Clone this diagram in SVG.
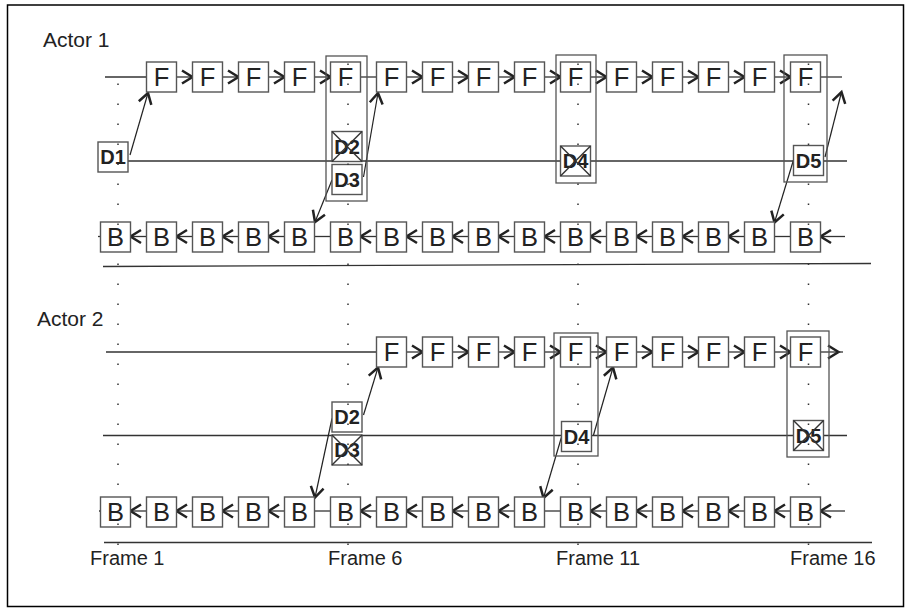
<svg xmlns="http://www.w3.org/2000/svg" width="909" height="608" viewBox="0 0 909 608">
<defs>
<marker id="ah" markerUnits="userSpaceOnUse" orient="auto" markerWidth="24" markerHeight="24" refX="0" refY="0" viewBox="-12 -12 24 24" overflow="visible">
<path d="M-10.5,-6.5 L0,0 L-10.5,6.5" fill="none" stroke="#222" stroke-width="2.5" stroke-linejoin="miter"/>
</marker>
<style>
.ln{stroke:#333;stroke-width:1.3;fill:none}
.ar{stroke:#333;stroke-width:1.3;fill:none;marker-end:url(#ah)}
.dg{stroke:#222;stroke-width:1.2;fill:none;marker-end:url(#ah)}
.bx{fill:#fff;stroke:#555;stroke-width:1.4}
.hl{fill:none;stroke:#555;stroke-width:1.3}
.xx{stroke:#333;stroke-width:1.5}
.dot{stroke:#333;stroke-width:1.5;stroke-dasharray:1.6 18.4;fill:none}
.fb{font-family:"Liberation Sans",Arial,sans-serif;font-size:25.5px;fill:#222;text-anchor:middle}
.d{font-family:"Liberation Sans",Arial,sans-serif;font-size:20px;font-weight:bold;fill:#222;text-anchor:middle}
.lbl{font-family:"Liberation Sans",Arial,sans-serif;font-size:20px;fill:#222}
.act{font-family:"Liberation Sans",Arial,sans-serif;font-size:21px;fill:#222}
</style>
</defs>
<rect x="7.5" y="5" width="896" height="601.5" fill="#fff" stroke="#000" stroke-width="1.5"/>
<text class="act" x="43" y="47">Actor 1</text>
<text class="act" x="37" y="326">Actor 2</text>
<line class="ln" x1="103" y1="266.5" x2="871" y2="263.5"/>
<line class="ln" x1="104" y1="542.5" x2="872" y2="542.5"/>
<text class="lbl" x="90" y="565">Frame 1</text>
<text class="lbl" x="328" y="565">Frame 6</text>
<text class="lbl" x="556" y="565">Frame 11</text>
<text class="lbl" x="790" y="565">Frame 16</text>
<g id="connectors">
<line class="ln" x1="105" y1="77" x2="146.5" y2="77"/>
<line class="ar" x1="176.5" y1="77" x2="192.5" y2="77"/>
<line class="ar" x1="222.5" y1="77" x2="238.5" y2="77"/>
<line class="ar" x1="268.5" y1="77" x2="284.5" y2="77"/>
<line class="ar" x1="314.5" y1="77" x2="330.5" y2="77"/>
<line class="ln" x1="360.5" y1="77" x2="376.5" y2="77"/>
<line class="ar" x1="406.5" y1="77" x2="422.5" y2="77"/>
<line class="ar" x1="452.5" y1="77" x2="468.5" y2="77"/>
<line class="ar" x1="498.5" y1="77" x2="514.5" y2="77"/>
<line class="ar" x1="544.5" y1="77" x2="560.5" y2="77"/>
<line class="ar" x1="590.5" y1="77" x2="606.5" y2="77"/>
<line class="ar" x1="636.5" y1="77" x2="652.5" y2="77"/>
<line class="ar" x1="682.5" y1="77" x2="698.5" y2="77"/>
<line class="ar" x1="728.5" y1="77" x2="744.5" y2="77"/>
<line class="ar" x1="774.5" y1="77" x2="790.5" y2="77"/>
<line class="ln" x1="820.5" y1="77" x2="842" y2="77"/>
<line class="ln" x1="128" y1="161" x2="847" y2="161"/>
<line class="ln" x1="98" y1="236.5" x2="100.5" y2="236.5"/>
<line class="ar" x1="146.5" y1="236.5" x2="130.5" y2="236.5"/>
<line class="ar" x1="192.5" y1="236.5" x2="176.5" y2="236.5"/>
<line class="ar" x1="238.5" y1="236.5" x2="222.5" y2="236.5"/>
<line class="ar" x1="284.5" y1="236.5" x2="268.5" y2="236.5"/>
<line class="ln" x1="330.5" y1="236.5" x2="314.5" y2="236.5"/>
<line class="ar" x1="376.5" y1="236.5" x2="360.5" y2="236.5"/>
<line class="ar" x1="422.5" y1="236.5" x2="406.5" y2="236.5"/>
<line class="ar" x1="468.5" y1="236.5" x2="452.5" y2="236.5"/>
<line class="ar" x1="514.5" y1="236.5" x2="498.5" y2="236.5"/>
<line class="ar" x1="560.5" y1="236.5" x2="544.5" y2="236.5"/>
<line class="ar" x1="606.5" y1="236.5" x2="590.5" y2="236.5"/>
<line class="ar" x1="652.5" y1="236.5" x2="636.5" y2="236.5"/>
<line class="ar" x1="698.5" y1="236.5" x2="682.5" y2="236.5"/>
<line class="ar" x1="744.5" y1="236.5" x2="728.5" y2="236.5"/>
<line class="ln" x1="790.5" y1="236.5" x2="774.5" y2="236.5"/>
<line class="ar" x1="845" y1="236.5" x2="820.5" y2="236.5"/>
<line class="dg" x1="130" y1="155" x2="148" y2="93"/>
<line class="dg" x1="363.5" y1="177" x2="378" y2="93"/>
<line class="dg" x1="332" y1="180" x2="315" y2="222"/>
<line class="dg" x1="825" y1="157" x2="841.5" y2="92"/>
<line class="dg" x1="793.5" y1="160" x2="774.5" y2="222.5"/>
<line class="ln" x1="106" y1="352" x2="376.5" y2="352"/>
<line class="ar" x1="406.5" y1="352" x2="422.5" y2="352"/>
<line class="ar" x1="452.5" y1="352" x2="468.5" y2="352"/>
<line class="ar" x1="498.5" y1="352" x2="514.5" y2="352"/>
<line class="ar" x1="544.5" y1="352" x2="560.5" y2="352"/>
<line class="ar" x1="590.5" y1="352" x2="606.5" y2="352"/>
<line class="ar" x1="636.5" y1="352" x2="652.5" y2="352"/>
<line class="ar" x1="682.5" y1="352" x2="698.5" y2="352"/>
<line class="ar" x1="728.5" y1="352" x2="744.5" y2="352"/>
<line class="ar" x1="774.5" y1="352" x2="790.5" y2="352"/>
<line class="ar" x1="820.5" y1="352" x2="838.5" y2="352"/>
<line class="ln" x1="838" y1="352" x2="843" y2="352"/>
<line class="ln" x1="103" y1="435.5" x2="847" y2="435.5"/>
<line class="ln" x1="99" y1="511" x2="100.5" y2="511"/>
<line class="ar" x1="146.5" y1="511" x2="130.5" y2="511"/>
<line class="ar" x1="192.5" y1="511" x2="176.5" y2="511"/>
<line class="ar" x1="238.5" y1="511" x2="222.5" y2="511"/>
<line class="ar" x1="284.5" y1="511" x2="268.5" y2="511"/>
<line class="ln" x1="330.5" y1="511" x2="314.5" y2="511"/>
<line class="ar" x1="376.5" y1="511" x2="360.5" y2="511"/>
<line class="ar" x1="422.5" y1="511" x2="406.5" y2="511"/>
<line class="ar" x1="468.5" y1="511" x2="452.5" y2="511"/>
<line class="ar" x1="514.5" y1="511" x2="498.5" y2="511"/>
<line class="ln" x1="560.5" y1="511" x2="544.5" y2="511"/>
<line class="ar" x1="606.5" y1="511" x2="590.5" y2="511"/>
<line class="ar" x1="652.5" y1="511" x2="636.5" y2="511"/>
<line class="ar" x1="698.5" y1="511" x2="682.5" y2="511"/>
<line class="ar" x1="744.5" y1="511" x2="728.5" y2="511"/>
<line class="ar" x1="790.5" y1="511" x2="774.5" y2="511"/>
<line class="ar" x1="845" y1="511" x2="820.5" y2="511"/>
<line class="dg" x1="363.5" y1="415" x2="378" y2="367.5"/>
<line class="dg" x1="332" y1="418.5" x2="315" y2="497.5"/>
<line class="dg" x1="593.5" y1="435" x2="613" y2="367.5"/>
<line class="dg" x1="561.5" y1="437" x2="543.5" y2="498"/>
</g>
<g id="highlights">
<rect class="hl" x="326" y="56" width="41" height="145"/>
<rect class="hl" x="556" y="55" width="40" height="128"/>
<rect class="hl" x="784" y="55" width="43" height="127"/>
<rect class="hl" x="554" y="333" width="44" height="123"/>
<rect class="hl" x="787" y="331" width="42" height="126"/>
</g>
<g id="a1-forward">
<g id="a1-f2"><rect class="bx" x="146.5" y="62" width="30" height="30"/><text class="fb" x="161.5" y="86.2">F</text></g>
<g id="a1-f3"><rect class="bx" x="192.5" y="62" width="30" height="30"/><text class="fb" x="207.5" y="86.2">F</text></g>
<g id="a1-f4"><rect class="bx" x="238.5" y="62" width="30" height="30"/><text class="fb" x="253.5" y="86.2">F</text></g>
<g id="a1-f5"><rect class="bx" x="284.5" y="62" width="30" height="30"/><text class="fb" x="299.5" y="86.2">F</text></g>
<g id="a1-f6"><rect class="bx" x="330.5" y="62" width="30" height="30"/><text class="fb" x="345.5" y="86.2">F</text></g>
<g id="a1-f7"><rect class="bx" x="376.5" y="62" width="30" height="30"/><text class="fb" x="391.5" y="86.2">F</text></g>
<g id="a1-f8"><rect class="bx" x="422.5" y="62" width="30" height="30"/><text class="fb" x="437.5" y="86.2">F</text></g>
<g id="a1-f9"><rect class="bx" x="468.5" y="62" width="30" height="30"/><text class="fb" x="483.5" y="86.2">F</text></g>
<g id="a1-f10"><rect class="bx" x="514.5" y="62" width="30" height="30"/><text class="fb" x="529.5" y="86.2">F</text></g>
<g id="a1-f11"><rect class="bx" x="560.5" y="62" width="30" height="30"/><text class="fb" x="575.5" y="86.2">F</text></g>
<g id="a1-f12"><rect class="bx" x="606.5" y="62" width="30" height="30"/><text class="fb" x="621.5" y="86.2">F</text></g>
<g id="a1-f13"><rect class="bx" x="652.5" y="62" width="30" height="30"/><text class="fb" x="667.5" y="86.2">F</text></g>
<g id="a1-f14"><rect class="bx" x="698.5" y="62" width="30" height="30"/><text class="fb" x="713.5" y="86.2">F</text></g>
<g id="a1-f15"><rect class="bx" x="744.5" y="62" width="30" height="30"/><text class="fb" x="759.5" y="86.2">F</text></g>
<g id="a1-f16"><rect class="bx" x="790.5" y="62" width="30" height="30"/><text class="fb" x="805.5" y="86.2">F</text></g>
</g>
<g id="a1-backward">
<g id="a1-b1"><rect class="bx" x="100.5" y="222" width="30" height="30"/><text class="fb" x="115.5" y="246.2">B</text></g>
<g id="a1-b2"><rect class="bx" x="146.5" y="222" width="30" height="30"/><text class="fb" x="161.5" y="246.2">B</text></g>
<g id="a1-b3"><rect class="bx" x="192.5" y="222" width="30" height="30"/><text class="fb" x="207.5" y="246.2">B</text></g>
<g id="a1-b4"><rect class="bx" x="238.5" y="222" width="30" height="30"/><text class="fb" x="253.5" y="246.2">B</text></g>
<g id="a1-b5"><rect class="bx" x="284.5" y="222" width="30" height="30"/><text class="fb" x="299.5" y="246.2">B</text></g>
<g id="a1-b6"><rect class="bx" x="330.5" y="222" width="30" height="30"/><text class="fb" x="345.5" y="246.2">B</text></g>
<g id="a1-b7"><rect class="bx" x="376.5" y="222" width="30" height="30"/><text class="fb" x="391.5" y="246.2">B</text></g>
<g id="a1-b8"><rect class="bx" x="422.5" y="222" width="30" height="30"/><text class="fb" x="437.5" y="246.2">B</text></g>
<g id="a1-b9"><rect class="bx" x="468.5" y="222" width="30" height="30"/><text class="fb" x="483.5" y="246.2">B</text></g>
<g id="a1-b10"><rect class="bx" x="514.5" y="222" width="30" height="30"/><text class="fb" x="529.5" y="246.2">B</text></g>
<g id="a1-b11"><rect class="bx" x="560.5" y="222" width="30" height="30"/><text class="fb" x="575.5" y="246.2">B</text></g>
<g id="a1-b12"><rect class="bx" x="606.5" y="222" width="30" height="30"/><text class="fb" x="621.5" y="246.2">B</text></g>
<g id="a1-b13"><rect class="bx" x="652.5" y="222" width="30" height="30"/><text class="fb" x="667.5" y="246.2">B</text></g>
<g id="a1-b14"><rect class="bx" x="698.5" y="222" width="30" height="30"/><text class="fb" x="713.5" y="246.2">B</text></g>
<g id="a1-b15"><rect class="bx" x="744.5" y="222" width="30" height="30"/><text class="fb" x="759.5" y="246.2">B</text></g>
<g id="a1-b16"><rect class="bx" x="790.5" y="222" width="30" height="30"/><text class="fb" x="805.5" y="246.2">B</text></g>
</g>
<g id="a1-data">
<g id="a1-d1"><rect class="bx" x="98" y="142" width="30" height="30"/><text class="d" x="113" y="164.2">D1</text></g>
<g id="a1-d2"><rect class="bx" x="332" y="131.5" width="30" height="30"/><text class="d" x="347" y="153.7">D2</text><line class="xx" x1="332" y1="131.5" x2="362" y2="161.5"/><line class="xx" x1="362" y1="131.5" x2="332" y2="161.5"/></g>
<g id="a1-d3"><rect class="bx" x="332" y="164.5" width="30" height="30"/><text class="d" x="347" y="186.7">D3</text></g>
<g id="a1-d4"><rect class="bx" x="560.5" y="146" width="30" height="30"/><text class="d" x="575.5" y="168.2">D4</text><line class="xx" x1="560.5" y1="146" x2="590.5" y2="176"/><line class="xx" x1="590.5" y1="146" x2="560.5" y2="176"/></g>
<g id="a1-d5"><rect class="bx" x="793.5" y="145.5" width="30" height="30"/><text class="d" x="808.5" y="167.7">D5</text></g>
</g>
<g id="a2-forward">
<g id="a2-f7"><rect class="bx" x="376.5" y="337" width="30" height="30"/><text class="fb" x="391.5" y="361.2">F</text></g>
<g id="a2-f8"><rect class="bx" x="422.5" y="337" width="30" height="30"/><text class="fb" x="437.5" y="361.2">F</text></g>
<g id="a2-f9"><rect class="bx" x="468.5" y="337" width="30" height="30"/><text class="fb" x="483.5" y="361.2">F</text></g>
<g id="a2-f10"><rect class="bx" x="514.5" y="337" width="30" height="30"/><text class="fb" x="529.5" y="361.2">F</text></g>
<g id="a2-f11"><rect class="bx" x="560.5" y="337" width="30" height="30"/><text class="fb" x="575.5" y="361.2">F</text></g>
<g id="a2-f12"><rect class="bx" x="606.5" y="337" width="30" height="30"/><text class="fb" x="621.5" y="361.2">F</text></g>
<g id="a2-f13"><rect class="bx" x="652.5" y="337" width="30" height="30"/><text class="fb" x="667.5" y="361.2">F</text></g>
<g id="a2-f14"><rect class="bx" x="698.5" y="337" width="30" height="30"/><text class="fb" x="713.5" y="361.2">F</text></g>
<g id="a2-f15"><rect class="bx" x="744.5" y="337" width="30" height="30"/><text class="fb" x="759.5" y="361.2">F</text></g>
<g id="a2-f16"><rect class="bx" x="790.5" y="337" width="30" height="30"/><text class="fb" x="805.5" y="361.2">F</text></g>
</g>
<g id="a2-backward">
<g id="a2-b1"><rect class="bx" x="100.5" y="497" width="30" height="30"/><text class="fb" x="115.5" y="521.2">B</text></g>
<g id="a2-b2"><rect class="bx" x="146.5" y="497" width="30" height="30"/><text class="fb" x="161.5" y="521.2">B</text></g>
<g id="a2-b3"><rect class="bx" x="192.5" y="497" width="30" height="30"/><text class="fb" x="207.5" y="521.2">B</text></g>
<g id="a2-b4"><rect class="bx" x="238.5" y="497" width="30" height="30"/><text class="fb" x="253.5" y="521.2">B</text></g>
<g id="a2-b5"><rect class="bx" x="284.5" y="497" width="30" height="30"/><text class="fb" x="299.5" y="521.2">B</text></g>
<g id="a2-b6"><rect class="bx" x="330.5" y="497" width="30" height="30"/><text class="fb" x="345.5" y="521.2">B</text></g>
<g id="a2-b7"><rect class="bx" x="376.5" y="497" width="30" height="30"/><text class="fb" x="391.5" y="521.2">B</text></g>
<g id="a2-b8"><rect class="bx" x="422.5" y="497" width="30" height="30"/><text class="fb" x="437.5" y="521.2">B</text></g>
<g id="a2-b9"><rect class="bx" x="468.5" y="497" width="30" height="30"/><text class="fb" x="483.5" y="521.2">B</text></g>
<g id="a2-b10"><rect class="bx" x="514.5" y="497" width="30" height="30"/><text class="fb" x="529.5" y="521.2">B</text></g>
<g id="a2-b11"><rect class="bx" x="560.5" y="497" width="30" height="30"/><text class="fb" x="575.5" y="521.2">B</text></g>
<g id="a2-b12"><rect class="bx" x="606.5" y="497" width="30" height="30"/><text class="fb" x="621.5" y="521.2">B</text></g>
<g id="a2-b13"><rect class="bx" x="652.5" y="497" width="30" height="30"/><text class="fb" x="667.5" y="521.2">B</text></g>
<g id="a2-b14"><rect class="bx" x="698.5" y="497" width="30" height="30"/><text class="fb" x="713.5" y="521.2">B</text></g>
<g id="a2-b15"><rect class="bx" x="744.5" y="497" width="30" height="30"/><text class="fb" x="759.5" y="521.2">B</text></g>
<g id="a2-b16"><rect class="bx" x="790.5" y="497" width="30" height="30"/><text class="fb" x="805.5" y="521.2">B</text></g>
</g>
<g id="a2-data">
<g id="a2-d2"><rect class="bx" x="332" y="402" width="30" height="30"/><text class="d" x="347" y="424.2">D2</text></g>
<g id="a2-d3"><rect class="bx" x="332" y="435" width="30" height="30"/><text class="d" x="347" y="457.2">D3</text><line class="xx" x1="332" y1="435" x2="362" y2="465"/><line class="xx" x1="362" y1="435" x2="332" y2="465"/></g>
<g id="a2-d4"><rect class="bx" x="561.5" y="421.5" width="30" height="30"/><text class="d" x="576.5" y="443.7">D4</text></g>
<g id="a2-d5"><rect class="bx" x="793.5" y="420.5" width="30" height="30"/><text class="d" x="808.5" y="442.7">D5</text><line class="xx" x1="793.5" y1="420.5" x2="823.5" y2="450.5"/><line class="xx" x1="823.5" y1="420.5" x2="793.5" y2="450.5"/></g>
</g>
<g id="frame-guides">
<line class="dot" x1="118" y1="83.5" x2="118" y2="546"/>
<line class="dot" x1="348" y1="63.5" x2="348" y2="546"/>
<line class="dot" x1="578" y1="63.5" x2="578" y2="546"/>
<line class="dot" x1="808.5" y1="63.5" x2="808.5" y2="546"/>
</g>
</svg>
